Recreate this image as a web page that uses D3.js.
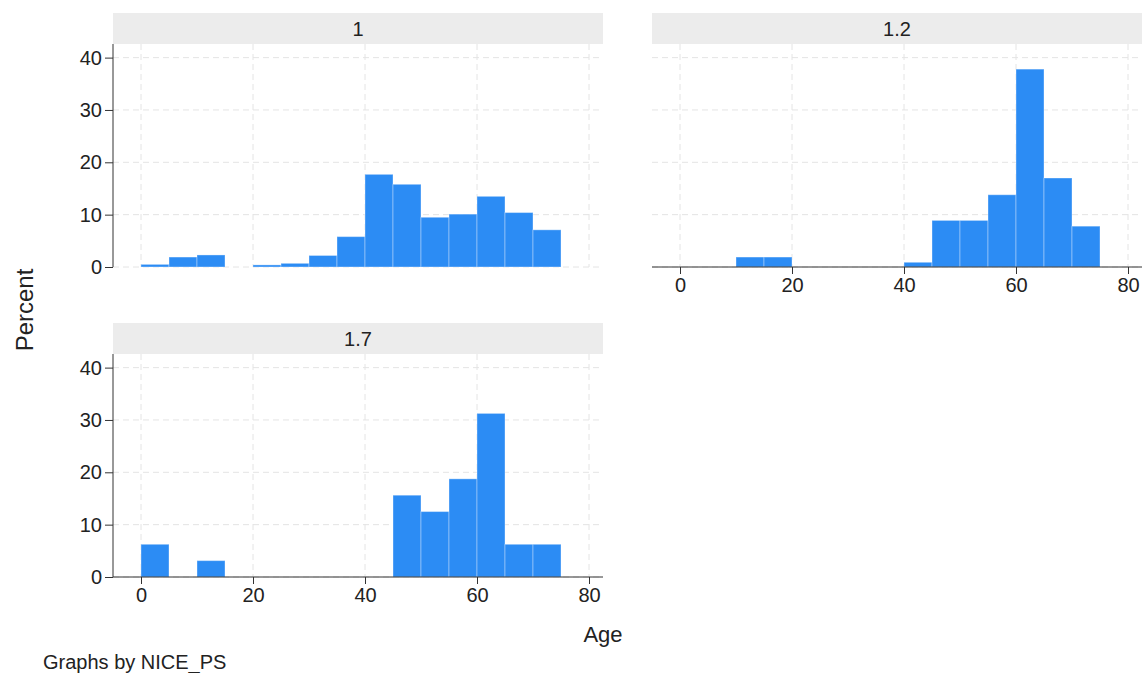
<!DOCTYPE html>
<html>
<head>
<meta charset="utf-8">
<script src="https://cdn.jsdelivr.net/npm/d3@7"></script>
<style>
  body { margin: 0; background: #fff; }
  text { font-family: "Liberation Sans", Arial, sans-serif; fill: #222; }
</style>
</head>
<body>
<div id="body"></div>
<script>
// histogram data, bin width 5 years, values in percent
var binWidth = 5;
var panelNames = ["1", "1.2", "1.7"];

var binStarts1 = [0, 5, 10, 20, 25, 30, 35, 40, 45, 50, 55, 60, 65, 70];
var percent1 = [0.5, 1.9, 2.3, 0.4, 0.7, 2.2, 5.8, 17.7, 15.8, 9.5, 10.1, 13.5, 10.4, 7.1];

var binStarts12 = [10, 15, 40, 45, 50, 55, 60, 65, 70];
var percent12 = [1.9, 1.9, 0.9, 8.9, 8.9, 13.8, 37.8, 17.0, 7.8];

var binStarts17 = [0, 10, 45, 50, 55, 60, 65, 70];
var percent17 = [6.25, 3.125, 15.625, 12.5, 18.75, 31.25, 6.25, 6.25];

var xTicks = [0, 20, 40, 60, 80];
var yTicks = [0, 10, 20, 30, 40];

var barColor = "#2c8cf4";
var gridColor = "#e4e4e4";
var axisColor = "#333";

var svg = d3.select('#body')
    .append('svg')
    .attr('width', 1147)
    .attr('height', 673);

// one facet of the grid
function makePanel (name, starts, values, box, showY, showX) {
  var x = d3.scaleLinear().domain([-5, 82.5]).range([box.left, box.right]);
  var y = d3.scaleLinear().domain([0, 42.6]).range([box.bottom, box.top]);
  var g = svg.append('g');

  // strip title
  g.append('rect')
      .attr('x', box.left).attr('y', box.top - 31)
      .attr('width', box.right - box.left).attr('height', 31)
      .attr('fill', '#ececec');
  g.append('text')
      .attr('x', (box.left + box.right) / 2).attr('y', box.top - 15.5)
      .attr('text-anchor', 'middle').attr('dy', '0.35em')
      .attr('font-size', '20px')
      .text(name);

  // grid
  g.selectAll('.hg').data(yTicks).enter().append('line')
      .attr('x1', box.left).attr('x2', box.right)
      .attr('y1', function (d) { return y(d); })
      .attr('y2', function (d) { return y(d); })
      .attr('stroke', gridColor).attr('stroke-dasharray', '6,4');
  g.selectAll('.vg').data(xTicks).enter().append('line')
      .attr('y1', box.top).attr('y2', box.bottom)
      .attr('x1', function (d) { return x(d); })
      .attr('x2', function (d) { return x(d); })
      .attr('stroke', gridColor).attr('stroke-dasharray', '6,4');

  // bars
  g.selectAll('.bar').data(starts).enter().append('rect')
      .attr('x', function (d) { return x(d); })
      .attr('width', function (d) { return x(d + binWidth) - x(d); })
      .attr('y', function (d, i) { return y(values[i]); })
      .attr('height', function (d, i) { return y(0) - y(values[i]); })
      .attr('fill', barColor)
      .attr('stroke', 'rgba(255,255,255,0.35)')
      .attr('stroke-width', 1);

  if (showY) {
    var ya = g.append('g')
        .attr('transform', 'translate(' + box.left + ',0)')
        .call(d3.axisLeft(y).tickValues(yTicks).tickSize(8).tickPadding(3));
    ya.select('.domain').attr('d', 'M0,' + box.top + 'V' + box.bottom).attr('stroke', axisColor);
    ya.selectAll('.tick line').attr('stroke', axisColor);
    ya.selectAll('.tick text').attr('font-size', '20px').attr('fill', '#222')
        .attr('font-family', '"Liberation Sans", Arial, sans-serif');
  }
  if (showX) {
    var xa = g.append('g')
        .attr('transform', 'translate(0,' + box.bottom + ')')
        .call(d3.axisBottom(x).tickValues(xTicks).tickSize(7).tickPadding(4));
    xa.select('.domain').attr('d', 'M' + box.left + ',0H' + box.right).attr('stroke', axisColor);
    xa.selectAll('.tick line').attr('stroke', axisColor);
    xa.selectAll('.tick text').attr('font-size', '20px').attr('fill', '#222')
        .attr('font-family', '"Liberation Sans", Arial, sans-serif');
  }
}

makePanel(panelNames[0], binStarts1, percent1, {left: 113, right: 603, top: 44, bottom: 267}, true, false);
makePanel(panelNames[1], binStarts12, percent12, {left: 652, right: 1142, top: 44, bottom: 267}, false, true);
makePanel(panelNames[2], binStarts17, percent17, {left: 113, right: 603, top: 354, bottom: 577}, true, true);

// axis titles and note
svg.append('text')
    .attr('transform', 'translate(25,310) rotate(-90)')
    .attr('text-anchor', 'middle').attr('dy', '0.35em')
    .attr('font-size', '24px')
    .text('Percent');
svg.append('text')
    .attr('x', 603).attr('y', 634)
    .attr('text-anchor', 'middle').attr('dy', '0.35em')
    .attr('font-size', '22px')
    .text('Age');
svg.append('text')
    .attr('x', 43).attr('y', 662)
    .attr('dy', '0.35em')
    .attr('font-size', '20px')
    .text('Graphs by NICE_PS');
</script>
</body>
</html>
